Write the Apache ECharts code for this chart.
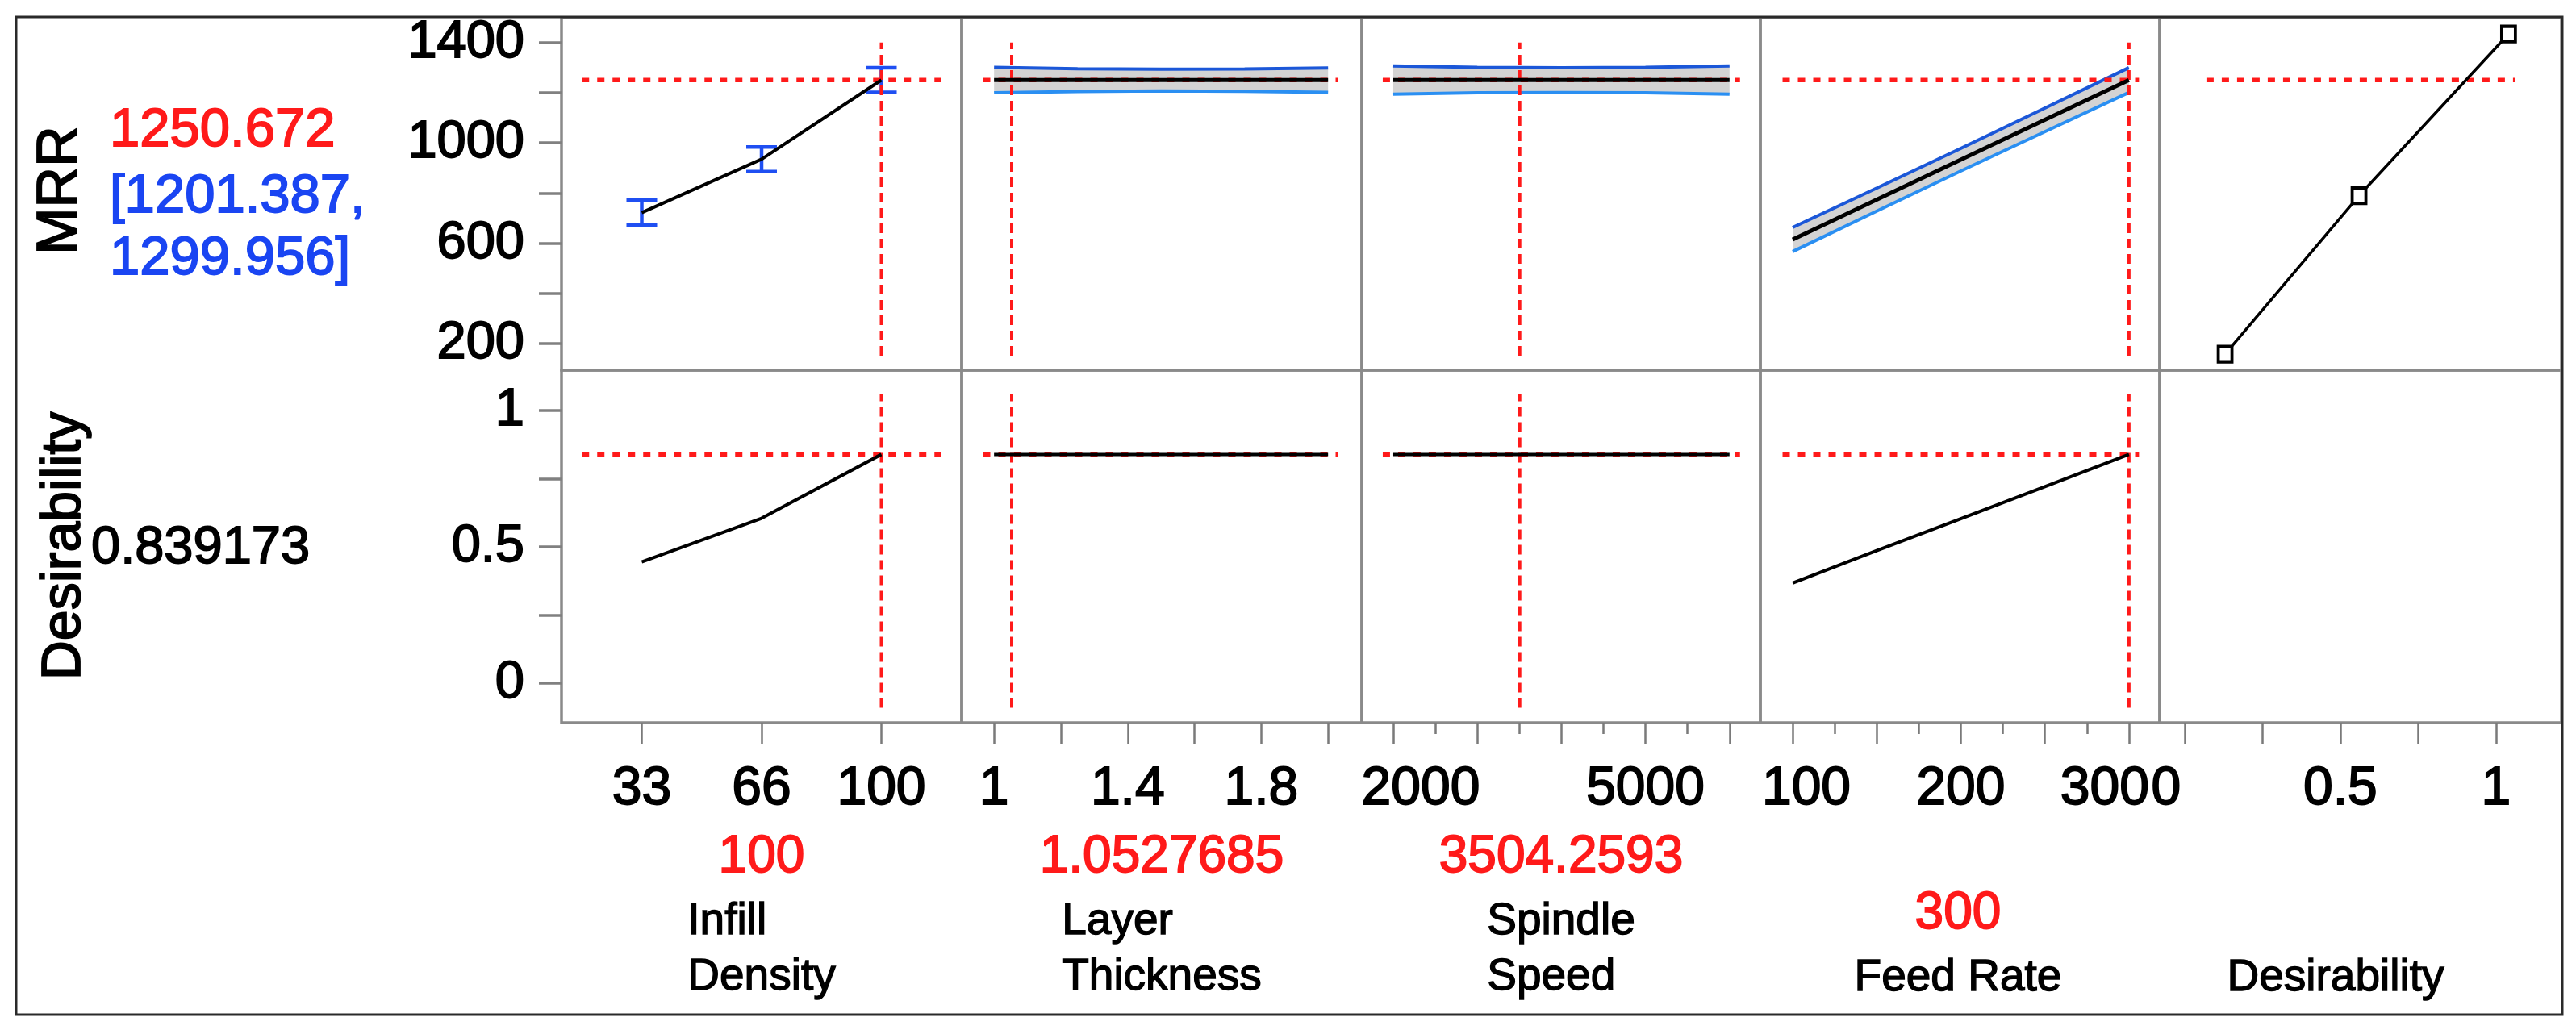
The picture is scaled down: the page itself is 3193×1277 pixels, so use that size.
<!DOCTYPE html>
<html><head><meta charset="utf-8">
<script src="https://cdn.jsdelivr.net/npm/echarts@6/dist/echarts.min.js"></script>
<style>html,body{margin:0;padding:0;background:#fff}#c{width:3193px;height:1277px}</style>
</head><body><div id="c"></div>
<script>
// ================= DATA =================
const infillLevels = ['33', '66', '100'];
const infillIdx = [0, 1, 2];
const mrrInfill = [722, 935, 1250.672];
const mrrInfillLow = [672, 886, 1201.387];
const mrrInfillHigh = [772, 984, 1299.956];
const desInfill = [0.445, 0.605, 0.839173];

const layerX = [1.0, 1.25, 1.5, 1.75, 2.0];
const mrrLayer = [1250.672, 1250.672, 1250.672, 1250.672, 1250.672];
const mrrLayerLow = [1200, 1205, 1207, 1206, 1202];
const mrrLayerHigh = [1301, 1296, 1294, 1295, 1299];
const desLayer = [0.839173, 0.839173, 0.839173, 0.839173, 0.839173];

const spindleX = [2000, 3000, 4000, 5000, 6000];
const mrrSpindle = [1250.672, 1250.672, 1250.672, 1250.672, 1250.672];
const mrrSpindleLow = [1194, 1200, 1201, 1200, 1194];
const mrrSpindleHigh = [1307, 1301, 1300, 1301, 1307];
const desSpindle = [0.839173, 0.839173, 0.839173, 0.839173, 0.839173];

const feedX = [100, 150, 200, 250, 300];
const mrrFeed = [615, 774, 933, 1092, 1250.672];
const mrrFeedLow = [567, 728, 888, 1045, 1201.387];
const mrrFeedHigh = [663, 820, 978, 1139, 1299.956];
const desFeed = [0.367, 0.486, 0.603, 0.721, 0.839173];

// desirability function (x = desirability, y = MRR)
const desFnX = [0.13, 0.56, 1.04];
const desFnMRR = [158, 790, 1434];

// current settings
const currentX = [2, 1.0527685, 3504.2593, 300];      // infill is level index 2 (=100)
const currentXText = ['100', '1.0527685', '3504.2593', '300'];
const predMRR = 1250.672;
const predMRRci = ['[1201.387,', '1299.956]'];
const predDes = 0.839173;
const predDesText = '0.839173';

const factorNames = ['Infill\nDensity', 'Layer\nThickness', 'Spindle\nSpeed', 'Feed Rate', 'Desirability'];
const responseNames = ['MRR', 'Desirability'];

// axis extents (data units)
const xRanges = [[-0.67, 2.67], [0.903, 2.101], [1626, 6367], [80.8, 318.3], [-0.08, 1.21]];
const yRanges = [[94, 1499], [-0.145, 1.148]];
// ticks
const xMajorTicks = [[0, 1, 2], [1, 1.2, 1.4, 1.6, 1.8, 2], [2000, 3000, 4000, 5000, 6000], [100, 150, 200, 250, 300], [0, 0.25, 0.5, 0.75, 1]];
const xMinorTicks = [[], [], [2500, 3500, 4500, 5500], [125, 175, 225, 275], []];
const xTickLabels = [[0, 1, 2], [1, 1.4, 1.8], [2000, 5000], [100, 200, 300], [0, 0.5, 1]];
const yTicks = [[200, 400, 600, 800, 1000, 1200, 1400], [0, 0.25, 0.5, 0.75, 1]];
const yTickLabels = [[200, 600, 1000, 1400], [0, 0.5, 1]];
// extents of reference lines (data units)
const hLineExt = [[-0.5, 2.5], [0.967, 2.03], [1875, 6125], [94, 306], [0.07, 1.06]];
const vLineExt = [[152, 1400], [-0.09, 1.06]];

// ================= LAYOUT =================
const FONT = '"Liberation Sans", Arial, Helvetica, sans-serif';
const TB = 1.8; // slight text outline to match heavier source glyphs
const colL = [696, 1192, 1688, 2182, 2677];
const colR = [1192, 1688, 2182, 2677, 3175];
const rowT = [22, 459];
const rowB = [459, 896];
const RED = '#ff1a1a', BLUE_TXT = '#1a45f2', BAR_BLUE = '#1f4ff2', CI_UP = '#1b57d8', CI_LO = '#2a8ff2';

const grids = [], xAxes = [], yAxes = [], series = [];
for (let r = 0; r < 2; r++) {
  for (let c = 0; c < 5; c++) {
    grids.push({left: colL[c], top: rowT[r], width: colR[c] - colL[c], height: rowB[r] - rowT[r],
      show: true, borderColor: '#8a8a8a', borderWidth: 3.5, backgroundColor: 'rgba(0,0,0,0)',
      outerBoundsMode: 'none', containLabel: false});
  }
}
const labelShift = {'2:2000': ['sl', 68], '3:100': ['sl', 34], '3:300': ['sr', 60], '4:0': ['sr', 46]};
function xLabelFormatter(c) {
  return function (v) {
    const txt = c === 0 ? infillLevels[Math.round(v)] : String(v);
    const k = c + ':' + txt;
    if (labelShift[k]) return '{' + labelShift[k][0] + labelShift[k][1] + '|' + txt + '}';
    return txt;
  };
}
function richFor() {
  const o = {};
  const base = {fontSize: 66, fontFamily: FONT, color: '#000', textBorderColor: '#000', textBorderWidth: TB};
  [68, 34].forEach(p => o['sl' + p] = Object.assign({padding: [0, 0, 0, p]}, base));
  [60, 46].forEach(p => o['sr' + p] = Object.assign({padding: [0, p, 0, 0]}, base));
  return o;
}
for (let r = 0; r < 2; r++) {
  for (let c = 0; c < 5; c++) {
    const gi = r * 5 + c;
    if (r === 1) {
      xAxes.push({gridIndex: gi, type: 'value', min: xRanges[c][0], max: xRanges[c][1], position: 'bottom',
        axisLine: {show: false, onZero: false}, splitLine: {show: false},
        axisTick: {show: true, inside: false, length: 27, lineStyle: {color: '#7a7a7a', width: 2.5}, customValues: xMajorTicks[c]},
        axisLabel: {show: true, customValues: xTickLabels[c], formatter: xLabelFormatter(c), margin: 50,
          fontSize: 66, fontFamily: FONT, color: '#000', textBorderColor: '#000', textBorderWidth: TB,
          rich: richFor(), hideOverlap: false}});
    } else {
      // top-row axis: carries the short minor ticks drawn below the bottom row
      const hasMinor = xMinorTicks[c].length > 0;
      xAxes.push({gridIndex: gi, type: 'value', min: xRanges[c][0], max: xRanges[c][1], position: 'bottom',
        offset: rowB[1] - rowB[0],
        axisLine: {show: false, onZero: false}, splitLine: {show: false},
        axisTick: {show: hasMinor, inside: false, length: 14, lineStyle: {color: '#7a7a7a', width: 2.5}, customValues: hasMinor ? xMinorTicks[c] : [0]},
        axisLabel: {show: false}});
    }
    yAxes.push({gridIndex: gi, type: 'value', min: yRanges[r][0], max: yRanges[r][1], position: 'left',
      axisLine: {show: false, onZero: false}, splitLine: {show: false},
      axisTick: {show: c === 0, inside: false, length: 28, lineStyle: {color: '#808080', width: 3.5}, customValues: yTicks[r]},
      axisLabel: {show: c === 0, customValues: yTickLabels[r], formatter: v => String(v), margin: 46,
        fontSize: 65, fontFamily: FONT, color: '#000', textBorderColor: '#000', textBorderWidth: TB}});
  }
}

function zip(xs, ys) { return xs.map((x, i) => [x, ys[i]]); }
function line(gi, data, color, width, dash, z, extra) {
  return Object.assign({type: 'line', xAxisIndex: gi, yAxisIndex: gi, data: data, symbol: 'none', silent: true,
    animation: false, z: z, lineStyle: {color: color, width: width, type: dash || 'solid', cap: 'butt'}}, extra || {});
}
function band(gi, xs, lo, hi) {
  return {type: 'custom', xAxisIndex: gi, yAxisIndex: gi, data: [[xs[0], lo[0]]], silent: true, z: 1,
    clip: true, animation: false,
    renderItem: function (params, api) {
      const pts = [];
      for (let k = 0; k < xs.length; k++) pts.push(api.coord([xs[k], hi[k]]));
      for (let k = xs.length - 1; k >= 0; k--) pts.push(api.coord([xs[k], lo[k]]));
      return {type: 'polygon', shape: {points: pts}, style: {fill: '#d3d3d3'}};
    }};
}
function errorBars(gi, xs, lo, hi) {
  return {type: 'custom', xAxisIndex: gi, yAxisIndex: gi, data: xs.map((x, i) => [x, lo[i], hi[i]]),
    encode: {x: 0, y: [1, 2]}, silent: true, z: 4, animation: false,
    renderItem: function (params, api) {
      const x = api.value(0);
      const a = api.coord([x, api.value(1)]), b = api.coord([x, api.value(2)]);
      const hw = 19, st = {stroke: BAR_BLUE, lineWidth: 4.5};
      return {type: 'group', children: [
        {type: 'line', shape: {x1: a[0], y1: a[1], x2: b[0], y2: b[1]}, style: st},
        {type: 'line', shape: {x1: a[0] - hw, y1: a[1], x2: a[0] + hw, y2: a[1]}, style: st},
        {type: 'line', shape: {x1: b[0] - hw, y1: b[1], x2: b[0] + hw, y2: b[1]}, style: st}]};
    }};
}
const HDOT = [9, 10], VDASH = [12, 7];
function refLines(r, c) {
  const gi = r * 5 + c, yv = r === 0 ? predMRR : predDes;
  const out = [line(gi, [[hLineExt[c][0], yv], [hLineExt[c][1], yv]], RED, 5.5, HDOT, 5)];
  if (c < 4) out.push(line(gi, [[currentX[c], vLineExt[r][0]], [currentX[c], vLineExt[r][1]]], RED, 4, VDASH, 5));
  return out;
}

// ---- top row (MRR) ----
series.push(errorBars(0, infillIdx, mrrInfillLow, mrrInfillHigh));
series.push(line(0, zip(infillIdx, mrrInfill), '#000', 4, null, 6));
[[1, layerX, mrrLayer, mrrLayerLow, mrrLayerHigh], [2, spindleX, mrrSpindle, mrrSpindleLow, mrrSpindleHigh],
 [3, feedX, mrrFeed, mrrFeedLow, mrrFeedHigh]].forEach(([gi, xs, m, lo, hi]) => {
  series.push(band(gi, xs, lo, hi));
  series.push(line(gi, zip(xs, hi), CI_UP, 4, null, 3));
  series.push(line(gi, zip(xs, lo), CI_LO, 4, null, 3));
  series.push(line(gi, zip(xs, m), '#000', 5, null, 6));
});
series.push(line(4, zip(desFnX, desFnMRR), '#000', 3.5, null, 6,
  {symbol: 'rect', symbolSize: [17, 19], showSymbol: true,
   itemStyle: {color: '#fff', borderColor: '#000', borderWidth: 4}}));
// ---- bottom row (Desirability) ----
series.push(line(5, zip(infillIdx, desInfill), '#000', 4, null, 6));
series.push(line(6, zip(layerX, desLayer), '#000', 4, null, 6));
series.push(line(7, zip(spindleX, desSpindle), '#000', 4, null, 6));
series.push(line(8, zip(feedX, desFeed), '#000', 4, null, 6));
for (let r = 0; r < 2; r++) for (let c = 0; c < 5; c++) {
  if (r === 1 && c === 4) continue;
  refLines(r, c).forEach(s => series.push(s));
}

// ---- texts ----
const meas = document.createElement('canvas').getContext('2d');
function textW(t, size) { meas.font = size + 'px ' + FONT; return meas.measureText(t).width; }
const graphics = [];
graphics.push({type: 'rect', shape: {x: 20, y: 21, width: 3156, height: 1237}, style: {fill: 'none', stroke: '#2a2a2a', lineWidth: 3}, z: 0});
function txt(x, y, text, size, color, align, rot) {
  graphics.push({type: 'text', x: x, y: y, rotation: rot || 0, z: 10,
    style: {text: text, fontSize: size, fontFamily: FONT, fill: color, stroke: color, lineWidth: TB,
      align: align || 'left', verticalAlign: 'middle'}});
}
txt(76, 236, responseNames[0], 70, '#000', 'center', Math.PI / 2);
txt(80, 677, responseNames[1], 68, '#000', 'center', Math.PI / 2);
txt(136, 163, predMRR.toFixed(3), 67, RED, 'left');
txt(136, 245, predMRRci[0], 67, BLUE_TXT, 'left');
txt(136, 322, predMRRci[1], 67, BLUE_TXT, 'left');
txt(113, 680, predDesText, 65, '#000', 'left');
const nameCenters = [944, 1440, 1935, 2427, 2895];
for (let c = 0; c < 5; c++) {
  const lines = factorNames[c].split('\n');
  const mw = Math.max(...lines.map(l => textW(l, 55)));
  const twoLine = lines.length > 1;
  graphics.push({type: 'text', x: nameCenters[c] - mw / 2, y: twoLine ? 1177 : 1213, z: 10,
    style: {text: factorNames[c], fontSize: 55, fontFamily: FONT, fill: '#000', stroke: '#000', lineWidth: 1.4,
      align: 'left', verticalAlign: 'middle', lineHeight: 69}});
  if (c < 4) txt(nameCenters[c], twoLine ? 1063 : 1133, currentXText[c], 64, RED, 'center');
}

const chart = echarts.init(document.getElementById('c'), null, {renderer: 'canvas'});
chart.setOption({animation: false, backgroundColor: '#fff', grid: grids, xAxis: xAxes, yAxis: yAxes,
  series: series, graphic: graphics});
</script></body></html>
